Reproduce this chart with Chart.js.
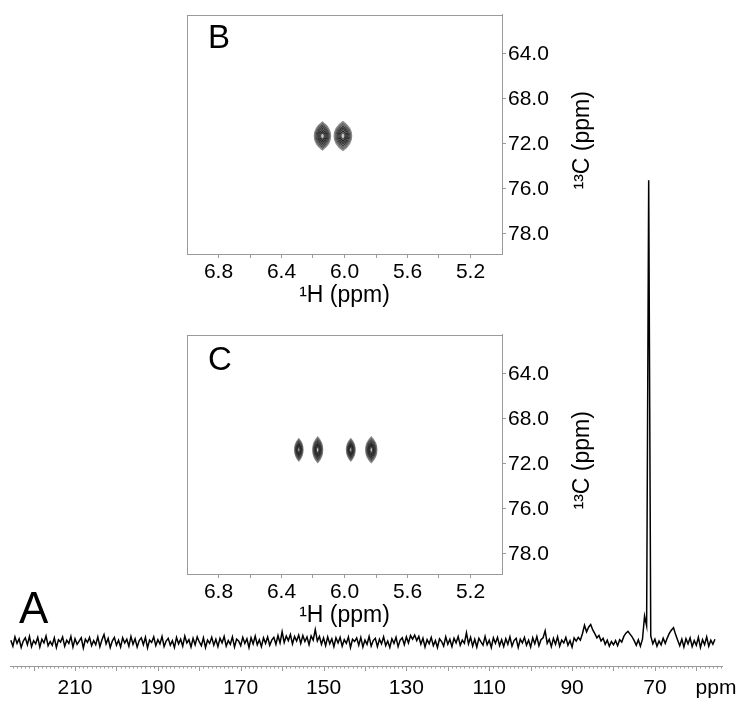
<!doctype html>
<html lang="en">
<head>
<meta charset="UTF-8">
<title>13C spectrum with HSQC insets</title>
<script src="https://cdn.jsdelivr.net/npm/chart.js"></script>
<style>
  html, body { margin: 0; padding: 0; background: #fff; }
  #wrap { position: relative; width: 750px; height: 709px; }
  #wrap canvas { position: absolute; }
</style>
</head>
<body>
<div id="wrap">
  <canvas id="spec" width="750" height="709" style="left:0;top:0;width:750px;height:709px"></canvas>
  <canvas id="insetB" width="470" height="310" style="left:150px;top:0;width:470px;height:310px"></canvas>
  <canvas id="insetC" width="470" height="310" style="left:150px;top:320px;width:470px;height:310px"></canvas>
</div>
<script>
// --- panel A: 1D 13C spectrum, sampled every 0.5 ppm from 225.5 down to 55.5 ---
const specStart = 225.5;
const specStep = 0.5;
const specInt = [
  0.4,-0.9,1.1,-0.3,0.7,-1.2,0.2,0.9,-0.6,1.2,-1.0,0.3,-0.4,1.0,-1.1,0.6,-0.2,1.3,-0.8,0.1,
  -0.7,0.9,-1.2,0.5,0.0,1.1,-0.9,0.4,-0.3,1.2,-1.1,0.7,-0.5,0.2,0.9,-1.3,0.6,-0.1,1.0,-0.8,
  0.3,-0.6,1.1,-1.0,0.5,1.6,-0.4,0.8,-1.2,0.2,1.0,-0.7,0.4,-1.1,0.9,-0.2,0.6,-0.9,1.2,-0.5,
  0.7,-1.1,0.3,0.9,-0.6,1.0,-1.3,0.4,-0.1,1.1,-0.8,0.5,-0.4,1.2,-1.0,0.2,0.8,-0.7,0.3,-1.2,
  1.0,-0.4,0.6,-0.9,1.3,-0.2,0.5,-1.1,0.8,-0.6,1.1,0.0,-0.8,0.9,-1.2,0.4,-0.3,1.0,-0.7,0.6,
  -1.0,0.8,-0.2,1.2,-0.9,0.3,-0.5,1.1,-1.1,0.6,0.2,-0.8,1.0,-0.3,0.7,-1.2,0.9,-0.4,1.3,-0.6,
  0.5,-1.0,0.9,-0.3,1.1,-0.7,0.4,1.0,-0.5,1.4,-0.2,2.2,-0.1,1.3,0.3,1.6,-0.4,1.2,0.2,1.5,
  -0.3,1.4,0.1,1.1,-0.6,1.3,0.4,2.7,0.2,1.2,-0.5,0.9,-0.8,1.1,-0.4,0.7,-1.0,0.9,-0.2,1.0,
  -0.9,0.5,-0.3,1.1,-1.2,0.6,0.1,0.9,-0.7,1.0,-1.1,0.4,-0.5,1.2,-0.9,0.3,0.8,-1.0,0.6,-0.4,
  1.1,-0.8,0.2,-1.2,0.7,-0.3,1.0,-1.0,0.4,0.9,-0.6,1.1,-0.2,1.4,0.6,1.5,0.3,1.2,-0.5,0.8,
  -1.1,0.5,-0.4,1.0,-0.8,0.3,-1.2,0.7,0.1,-0.9,1.1,-0.5,0.6,-1.0,0.8,-0.2,1.2,-0.7,0.4,-0.3,
  2.0,-0.4,1.0,-0.9,0.6,-1.1,0.8,0.0,-0.7,1.2,-0.6,0.4,-1.2,0.9,-0.3,1.0,-0.8,0.5,-1.0,0.7,
  -0.5,1.1,-0.9,0.3,0.8,-1.2,0.6,-0.2,1.0,-0.7,0.4,-1.1,0.9,-0.4,1.2,-0.8,0.5,0.9,2.4,-0.3,
  0.6,-1.0,0.8,-0.5,1.1,-0.9,0.4,-0.2,1.0,-0.7,0.3,-1.1,0.9,0.2,1.0,0.4,1.8,3.6,2.2,3.2,
  3.8,2.6,1.8,0.9,1.4,0.2,0.8,-0.5,0.4,-0.9,0.1,-0.6,0.3,-0.8,0.5,0.0,1.2,1.9,2.3,1.7,
  1.1,0.3,-0.7,0.5,-0.9,0.6,5.6,3.5,100,1.3,-0.4,0.6,-0.9,0.2,-0.6,0.8,-0.3,0.9,1.9,2.6,
  3.1,1.6,0.4,-0.8,0.6,-1.1,0.7,-0.4,0.9,-1.0,0.3,-0.7,1.0,-1.2,0.5,-0.6,1.1,-0.9,0.4,-0.5,
  0.6
];
const specTickValues = [210, 190, 170, 150, 130, 110, 90, 70];
const specTickLabels = ['210', '190', '170', '150', '130', '110', '90', '70'];

// --- panels B and C: 2D 1H-13C correlation peaks ---
const hTickValues = [6.8, 6.6, 6.4, 6.2, 6.0, 5.8, 5.6, 5.4, 5.2];
const hTickLabels = ['6.8', '', '6.4', '', '6.0', '', '5.6', '', '5.2'];
const cTickValues = [64, 68, 72, 76, 80];
const cTickLabels = ['64.0', '68.0', '72.0', '76.0', '78.0'];

const peaksB_H = [6.14, 6.01];
const peaksB_C = [71.3, 71.3];
const peaksB_dH = [0.052, 0.056];
const peaksB_dC = [1.25, 1.3];

const peaksC_H = [6.29, 6.17, 5.96, 5.83];
const peaksC_C = [70.75, 70.75, 70.75, 70.75];
const peaksC_dH = [0.027, 0.032, 0.028, 0.036];
const peaksC_dC = [1.0, 1.15, 1.0, 1.15];

const contourLevels = [1, 0.89, 0.78, 0.67, 0.56, 0.45, 0.34, 0.23];
const contourColors = ['#8a8a8a', '#666', '#4a4a4a', '#3a3a3a', '#2e2e2e', '#262626', '#222', '#444'];

Chart.defaults.font.family = "'Liberation Sans', Arial, Helvetica, sans-serif";
Chart.defaults.color = '#000';

const axisGrey = '#9a9a9a';

// minor / major ticks and labels for the 1D axis
const specAxisPlugin = {
  id: 'specAxis',
  afterDraw(chart) {
    const ctx = chart.ctx;
    const xs = chart.scales.x;
    ctx.save();
    ctx.strokeStyle = axisGrey;
    ctx.lineWidth = 1;
    for (let v = Math.ceil(xs.min); v <= xs.max; v++) {
      const px = Math.round(xs.getPixelForValue(v)) + 0.5;
      const len = v % 10 === 0 ? 5 : 2.5;
      ctx.beginPath();
      ctx.moveTo(px, xs.top);
      ctx.lineTo(px, xs.top + len);
      ctx.stroke();
    }
    ctx.fillStyle = '#000';
    ctx.font = "21px 'Liberation Sans', Arial, sans-serif";
    ctx.textAlign = 'center';
    ctx.textBaseline = 'middle';
    ctx.fillText('ppm', 716, 688);
    ctx.textAlign = 'left';
    ctx.textBaseline = 'alphabetic';
    ctx.font = "44px 'Liberation Sans', Arial, sans-serif";
    ctx.fillText('A', 19, 623);
    ctx.restore();
  }
};

new Chart(document.getElementById('spec'), {
  type: 'line',
  data: {
    datasets: [{
      data: specInt.map((v, i) => ({ x: specStart - i * specStep, y: v })),
      borderColor: '#000',
      borderWidth: 1.5,
      pointRadius: 0,
      tension: 0
    }]
  },
  options: {
    responsive: false,
    animation: false,
    layout: { padding: { left: 10, right: 28, top: 134, bottom: 0 } },
    plugins: { legend: { display: false }, tooltip: { enabled: false } },
    scales: {
      x: {
        type: 'linear',
        reverse: true,
        min: 53.8,
        max: 225.7,
        afterBuildTicks: s => { s.ticks = specTickValues.map(v => ({ value: v })); },
        afterFit: s => { s.height = 43; },
        ticks: {
          autoSkip: false,
          maxRotation: 0,
          padding: 10,
          font: { size: 21 },
          color: '#000',
          callback: (v, i) => specTickLabels[i]
        },
        grid: { display: true, drawOnChartArea: false, drawTicks: false, color: 'rgba(0,0,0,0)' },
        border: { display: true, color: axisGrey, width: 1 }
      },
      y: { display: false, min: -5.2, max: 110 }
    }
  },
  plugins: [specAxisPlugin]
});

function insetPlugin(letter, letterY, hs, cs, dhs, dcs) {
  return {
    id: 'inset' + letter,
    afterDatasetsDraw(chart) {
      const ctx = chart.ctx;
      const xs = chart.scales.x, ys = chart.scales.y;
      ctx.save();
      for (let p = 0; p < hs.length; p++) {
        const x0 = xs.getPixelForValue(hs[p]);
        const y0 = ys.getPixelForValue(cs[p]);
        const rx0 = Math.abs(xs.getPixelForValue(hs[p] + dhs[p]) - x0);
        const ry0 = Math.abs(ys.getPixelForValue(cs[p] + dcs[p]) - y0);
        contourLevels.forEach((k, li) => {
          const rx = rx0 * k, ry = ry0 * k;
          ctx.beginPath();
          ctx.moveTo(x0, y0 - ry);
          ctx.bezierCurveTo(x0 + rx * 1.33, y0 - ry * 0.45, x0 + rx * 1.33, y0 + ry * 0.45, x0, y0 + ry);
          ctx.bezierCurveTo(x0 - rx * 1.33, y0 + ry * 0.45, x0 - rx * 1.33, y0 - ry * 0.45, x0, y0 - ry);
          ctx.closePath();
          if (li === 0) {
            ctx.fillStyle = 'rgba(90,90,90,0.35)';
            ctx.fill();
          }
          ctx.strokeStyle = contourColors[li];
          ctx.lineWidth = 1.1;
          ctx.stroke();
        });
      }
      ctx.restore();
    },
    afterDraw(chart) {
      const ctx = chart.ctx;
      const a = chart.chartArea;
      ctx.save();
      ctx.strokeStyle = axisGrey;
      ctx.lineWidth = 1;
      ctx.strokeRect(Math.round(a.left) + 0.5, Math.round(a.top) + 0.5,
        Math.round(a.right - a.left), Math.round(a.bottom - a.top));
      ctx.fillStyle = '#000';
      ctx.font = "33px 'Liberation Sans', Arial, sans-serif";
      ctx.textAlign = 'left';
      ctx.textBaseline = 'alphabetic';
      ctx.fillText(letter, 58, letterY);
      ctx.translate(433, (a.top + a.bottom) / 2 + 6);
      ctx.rotate(-Math.PI / 2);
      ctx.font = "23px 'Liberation Sans', Arial, sans-serif";
      ctx.textAlign = 'center';
      ctx.textBaseline = 'middle';
      ctx.fillText('\u00b9\u00b3C (ppm)', 0, 0);
      ctx.restore();
    }
  };
}

function makeInset(id, letter, letterY, hs, cs, dhs, dcs) {
  new Chart(document.getElementById(id), {
    type: 'scatter',
    data: {
      datasets: [{ data: hs.map((h, i) => ({ x: h, y: cs[i] })), pointRadius: 0 }]
    },
    options: {
      responsive: false,
      animation: false,
      layout: { padding: { left: 37, right: 0, top: 9, bottom: 0 } },
      plugins: { legend: { display: false }, tooltip: { enabled: false } },
      scales: {
        x: {
          type: 'linear',
          reverse: true,
          min: 5.0,
          max: 7.0,
          afterBuildTicks: s => { s.ticks = hTickValues.map(v => ({ value: v })); },
          afterFit: s => { s.height = 56; },
          ticks: {
            autoSkip: false,
            maxRotation: 0,
            padding: 2,
            font: { size: 21 },
            color: '#000',
            callback: (v, i) => hTickLabels[i]
          },
          grid: { drawOnChartArea: false, drawTicks: true, tickLength: 4, color: axisGrey },
          border: { display: true, color: axisGrey },
          title: { display: true, text: '\u00b9H (ppm)', font: { size: 23 }, padding: { top: 0, bottom: 1 } }
        },
        y: {
          type: 'linear',
          position: 'right',
          reverse: true,
          min: 60.5,
          max: 81.8,
          afterBuildTicks: s => { s.ticks = cTickValues.map(v => ({ value: v })); },
          afterFit: s => { s.width = 118; },
          ticks: {
            autoSkip: false,
            padding: 2,
            font: { size: 21 },
            color: '#000',
            callback: (v, i) => cTickLabels[i]
          },
          grid: { drawOnChartArea: false, drawTicks: true, tickLength: 4, color: axisGrey },
          border: { display: true, color: axisGrey }
        }
      }
    },
    plugins: [insetPlugin(letter, letterY, hs, cs, dhs, dcs)]
  });
}

makeInset('insetB', 'B', 48, peaksB_H, peaksB_C, peaksB_dH, peaksB_dC);
makeInset('insetC', 'C', 50, peaksC_H, peaksC_C, peaksC_dH, peaksC_dC);
</script>
</body>
</html>
